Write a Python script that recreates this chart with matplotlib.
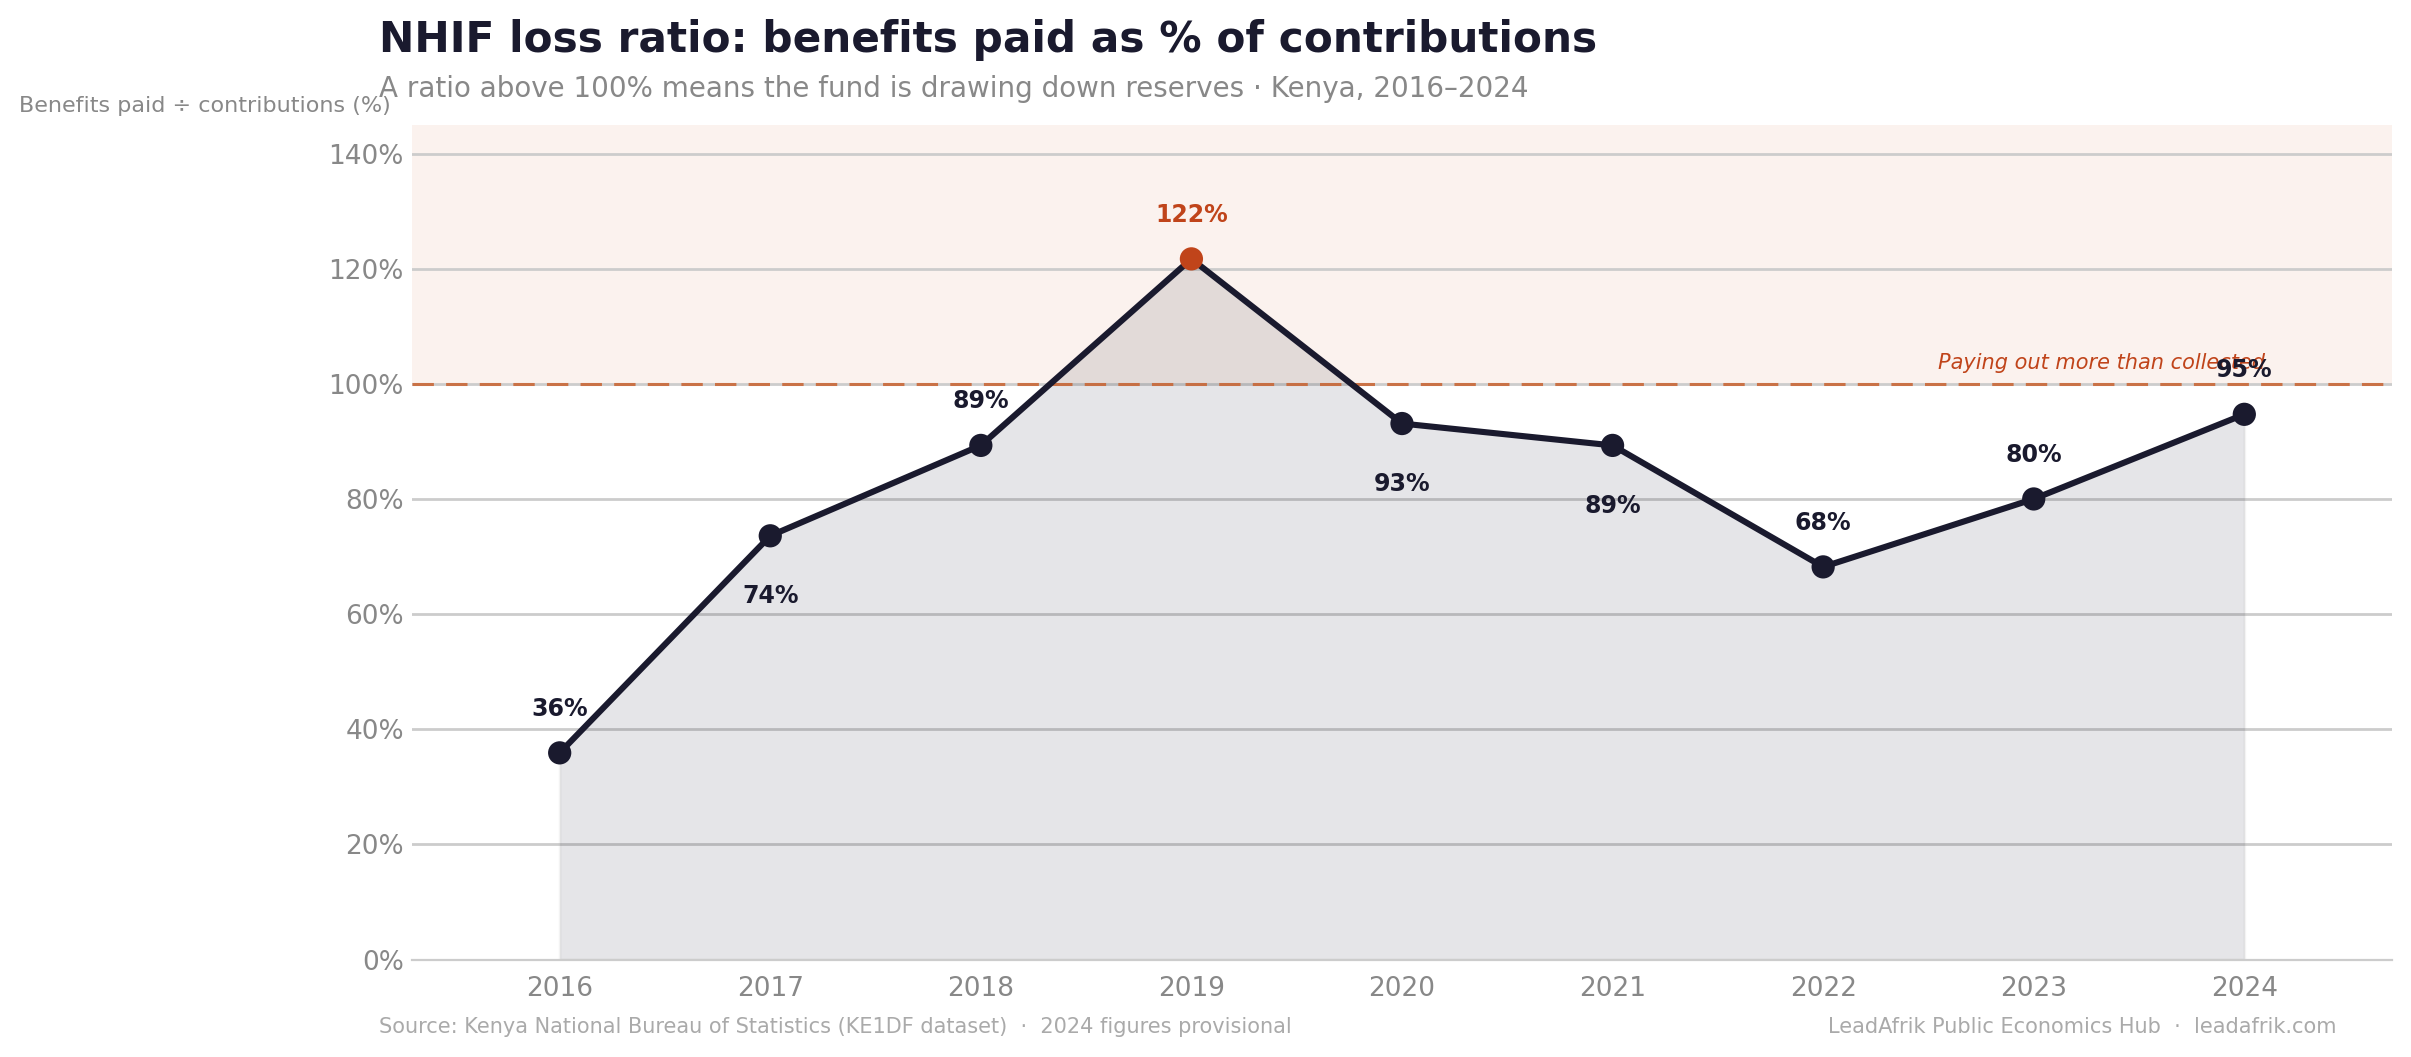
import matplotlib
matplotlib.use("Agg")
import matplotlib.pyplot as plt

years = [2016, 2017, 2018, 2019, 2020, 2021, 2022, 2023, 2024]
ratio = [35.9, 73.6, 89.3, 121.7, 93.1, 89.3, 68.2, 80.0, 94.7]
labels = ["36%", "74%", "89%", "122%", "93%", "89%", "68%", "80%", "95%"]
label_pos = ["above", "below", "above", "above", "below", "below", "above", "above", "above"]
yticks = [0, 20, 40, 60, 80, 100, 120, 140]

NAVY = "#1a1a2e"
ORANGE = "#c0441a"
GRAY = "#888888"

plt.rcParams['font.family'] = ['DejaVu Sans']
fig = plt.figure(figsize=(12.055, 5.285), dpi=200)
ax = fig.add_axes([0.171, 0.0922, 0.821, 0.7898])

ax.set_xlim(2015.3, 2024.7)
ax.set_ylim(0, 145)

ax.axhspan(100, 145, color="#fbf2ee", zorder=0, lw=0)
ax.set_yticks(yticks)
ax.set_yticklabels([f"{v}%" for v in yticks])
ax.set_xticks(years)
ax.set_xticklabels([str(y) for y in years])
ax.grid(axis="y", color="#cccccc", lw=1.0, zorder=1)
ax.set_axisbelow(True)
for s in ["top", "right", "left"]:
    ax.spines[s].set_visible(False)
ax.spines["bottom"].set_color("#cccccc")
ax.tick_params(length=0, colors=GRAY, labelsize=9.5)
ax.tick_params(axis="x", pad=6)
ax.tick_params(axis="y", pad=3)

ax.fill_between(years, ratio, 0, color=NAVY, alpha=0.11, lw=1, edgecolor="#999999", zorder=2)
ax.axhline(100, color="#c9622f", lw=1.1, ls=(0, (7, 4)), alpha=0.85, zorder=3)
ax.plot(years, ratio, color=NAVY, lw=2.2, zorder=4, solid_capstyle="round")
colors = [ORANGE if v > 100 else NAVY for v in ratio]
ax.scatter(years, ratio, s=70, c=colors, zorder=5, linewidths=0)

for x, v, lab, pos in zip(years, ratio, labels, label_pos):
    c = ORANGE if v > 100 else NAVY
    if pos == "above":
        ax.annotate(lab, (x, v), xytext=(0, 11.5), textcoords="offset points",
                    ha="center", va="bottom", fontsize=8.5, fontweight="bold", color=c, zorder=7)
    else:
        ax.annotate(lab, (x, v), xytext=(0, -17.5), textcoords="offset points",
                    ha="center", va="top", fontsize=8.5, fontweight="bold", color=c, zorder=7)

ax.text(2024.1, 101.8, "Paying out more than collected", ha="right", va="bottom",
        fontsize=7.5, style="italic", color=ORANGE, zorder=6)

fig.text(0.157, 0.962, "NHIF loss ratio: benefits paid as % of contributions",
         fontsize=15.2, fontweight="bold", color=NAVY, ha="left", va="center")
fig.text(0.157, 0.916, "A ratio above 100% means the fund is drawing down reserves · Kenya, 2016–2024",
         fontsize=10.0, color=GRAY, ha="left", va="center")
fig.text(0.008, 0.900, "Benefits paid ÷ contributions (%)", fontsize=8, color=GRAY,
         ha="left", va="center")
fig.text(0.157, 0.028, "Source: Kenya National Bureau of Statistics (KE1DF dataset)  ·  2024 figures provisional",
         fontsize=7.5, color="#aaaaaa", ha="left", va="center")
fig.text(0.969, 0.028, "LeadAfrik Public Economics Hub  ·  leadafrik.com",
         fontsize=7.5, color="#aaaaaa", ha="right", va="center")

fig.savefig("out.png", dpi=200)
